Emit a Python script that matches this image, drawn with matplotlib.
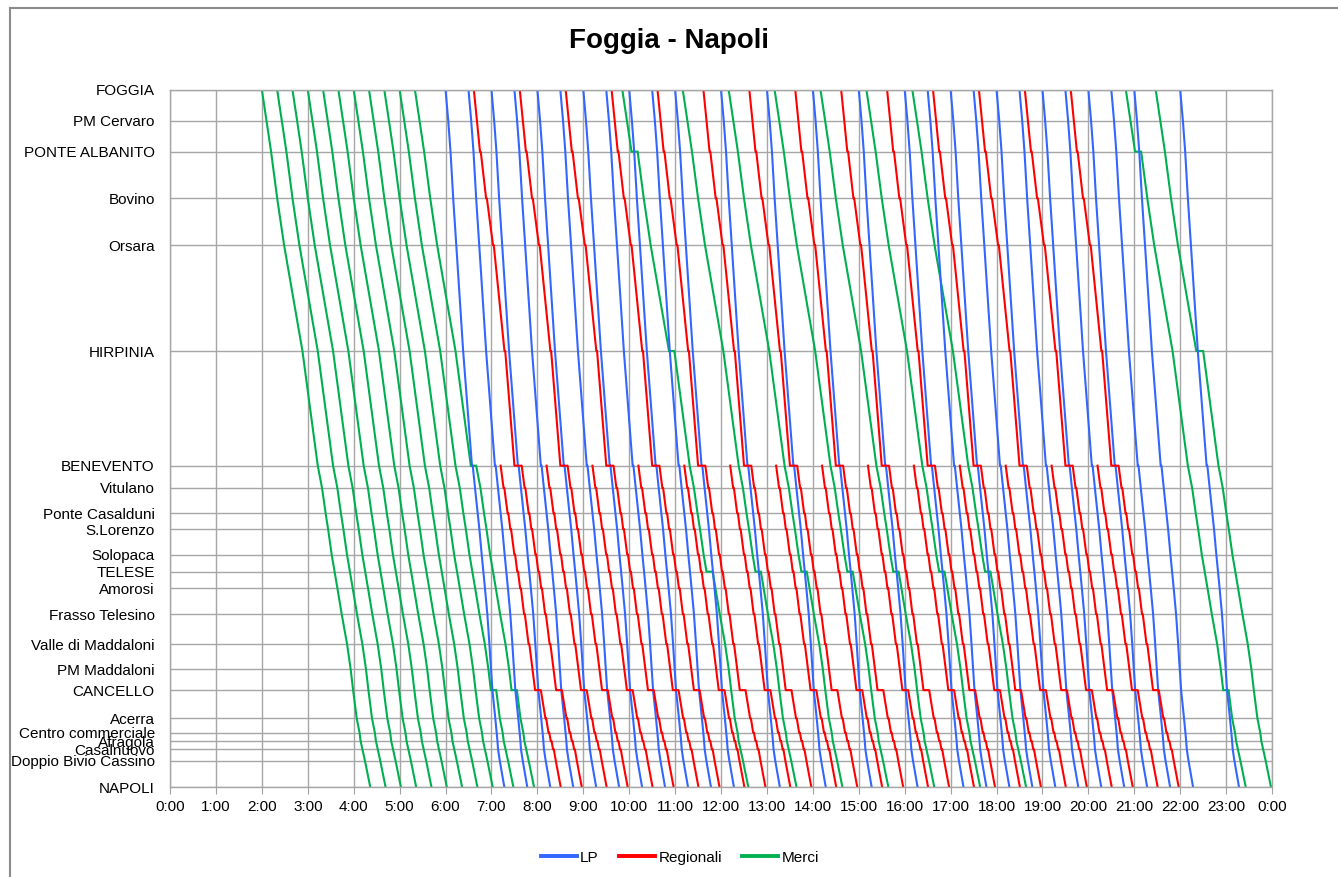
import matplotlib
matplotlib.use("Agg")
import matplotlib.pyplot as plt
from matplotlib.lines import Line2D

plt.rcParams['font.family'] = ['Liberation Sans', 'DejaVu Sans']

# ---------------- stations (top -> bottom) ----------------
stations = ["FOGGIA", "PM Cervaro", "PONTE ALBANITO", "Bovino", "Orsara", "HIRPINIA",
            "BENEVENTO", "Vitulano", "Ponte Casalduni", "S.Lorenzo", "Solopaca", "TELESE",
            "Amorosi", "Frasso Telesino", "Valle di Maddaloni", "PM Maddaloni", "CANCELLO",
            "Acerra", "Centro commerciale", "Afragola", "Casalnuovo", "Doppio Bivio Cassino",
            "NAPOLI"]
station_km = [0.0, 8.8, 17.7, 31.1, 44.5, 74.9, 107.8, 114.2, 121.5, 126.0, 133.3, 138.2,
              143.0, 150.4, 159.0, 166.2, 172.2, 180.3, 184.4, 186.8, 189.2, 192.4, 200.0]

# ---------------- LP (blue) ----------------
lp_route = ["FOGGIA", "PM Cervaro", "PONTE ALBANITO", "Bovino", "Orsara", "HIRPINIA",
            "BENEVENTO", "BENEVENTO", "Vitulano", "Ponte Casalduni", "S.Lorenzo", "Solopaca",
            "TELESE", "Amorosi", "Frasso Telesino", "Valle di Maddaloni", "PM Maddaloni",
            "CANCELLO", "Acerra", "Centro commerciale", "Afragola", "Casalnuovo",
            "Doppio Bivio Cassino", "NAPOLI"]
lp_minutes = [0, 3.5, 6.5, 10, 14, 23, 34.5, 35.5, 38.5, 42, 44.2, 47.2, 49.4, 51.5, 54.6,
              57.3, 59.4, 61.2, 65.0, 66.8, 67.8, 68.6, 70.8, 76.8]
lp_departures = ["6:00", "6:30", "7:00", "7:30", "8:00", "8:30", "9:00", "9:30", "10:00",
                 "10:30", "11:00", "12:00", "13:00", "14:00", "15:00", "16:00", "16:30",
                 "17:00", "17:30", "18:00", "18:30", "19:00", "19:30", "20:00", "20:30",
                 "21:00", "22:00"]

# ---------------- Regionali (red) ----------------
# Foggia -> Benevento section (minutes from Foggia)
reg_fg_route = ["FOGGIA", "PM Cervaro", "PONTE ALBANITO", "PONTE ALBANITO", "Bovino", "Bovino",
                "Orsara", "Orsara", "HIRPINIA", "HIRPINIA", "BENEVENTO"]
reg_fg_minutes = [0, 4, 8, 9, 16, 17, 25, 26, 40, 41, 53]
reg_bn_dwell = 9.5
# Benevento -> Napoli section (minutes from Benevento departure)
reg_bn_route = ["BENEVENTO", "Vitulano", "Vitulano", "Ponte Casalduni", "Ponte Casalduni",
                "S.Lorenzo", "S.Lorenzo", "Solopaca", "Solopaca", "TELESE", "TELESE",
                "Amorosi", "Amorosi", "Frasso Telesino", "Frasso Telesino",
                "Valle di Maddaloni", "Valle di Maddaloni", "PM Maddaloni", "CANCELLO",
                "CANCELLO", "Acerra", "Acerra", "Centro commerciale", "Centro commerciale",
                "Afragola", "Afragola", "Casalnuovo", "Casalnuovo", "Doppio Bivio Cassino",
                "NAPOLI"]
reg_bn_minutes = [0, 3.8, 4.8, 9.1, 10.1, 12.6, 13.6, 17.9, 18.9, 21.7, 22.7, 25.5, 26.5,
                  30.6, 31.6, 36.5, 37.5, 41.6, 45.0, 52.5, 58.5, 59.5, 62.5, 63.5, 65.5,
                  66.5, 68.5, 69.5, 72.0, 78.5]
reg_foggia_departures = ["6:37", "7:37", "8:37", "9:37", "10:37", "11:37", "12:37", "13:37",
                         "14:37", "15:37", "16:37", "17:37", "18:37", "19:37"]
reg_benevento_departures = ["7:12", "8:12", "9:12", "10:12", "11:12", "12:12", "13:12",
                            "14:12", "15:12", "16:12", "17:12", "18:12", "19:12", "20:12"]

# ---------------- Merci (green) ----------------
merci_route = ["FOGGIA", "PM Cervaro", "PONTE ALBANITO", "Bovino", "Orsara", "HIRPINIA",
               "BENEVENTO", "Vitulano", "Ponte Casalduni", "S.Lorenzo", "Solopaca", "TELESE",
               "Amorosi", "Frasso Telesino", "Valle di Maddaloni", "PM Maddaloni", "CANCELLO",
               "Acerra", "Centro commerciale", "Afragola", "Casalnuovo",
               "Doppio Bivio Cassino", "NAPOLI"]
merci_minutes = [0, 6, 12, 20, 29, 53, 73, 78.6, 83.3, 86.5, 91.2, 95, 98.7, 104.3, 111.3,
                 116, 119.2, 123.9, 127.6, 129, 131.4, 134.6, 141.6]
merci_departures = ["2:00", "2:20", "2:40", "3:00", "3:20", "3:40", "4:00", "4:20", "4:40",
                    "5:00", "5:20", "9:51", "11:10", "12:10", "13:10", "14:10", "15:10",
                    "16:10", "20:49", "21:28"]
# (train departure, station, dwell minutes)
merci_stops = [("5:00", "CANCELLO", 7), ("5:20", "BENEVENTO", 7), ("5:20", "CANCELLO", 7),
               ("9:51", "PONTE ALBANITO", 8), ("9:51", "HIRPINIA", 7), ("9:51", "TELESE", 8),
               ("11:10", "TELESE", 7), ("12:10", "TELESE", 7), ("13:10", "TELESE", 7),
               ("14:10", "TELESE", 7), ("15:10", "TELESE", 7), ("16:10", "TELESE", 7),
               ("20:49", "PONTE ALBANITO", 8), ("20:49", "CANCELLO", 7),
               ("21:28", "HIRPINIA", 9)]

series_names = ["LP", "Regionali", "Merci"]
series_colors = ["#3366FF", "#FF0000", "#00B050"]

# ---------------- helpers ----------------
km_of = dict(zip(stations, station_km))


def hm(s):
    h, m = s.split(":")
    return int(h) * 60 + int(m)


def path(start, route, minutes, dwells=None):
    xs, ys = [], []
    extra = 0.0
    for st, mn in zip(route, minutes):
        t = start + mn + extra
        xs.append(t / 60.0)
        ys.append(km_of[st])
        if dwells and st in dwells:
            extra += dwells[st]
            xs.append((start + mn + extra) / 60.0)
            ys.append(km_of[st])
    return xs, ys


fig = plt.figure(figsize=(13.38, 8.77), dpi=100)
ax = fig.add_axes([0.1271, 0.1026, 0.8236, 0.7948])

# Merci
for d in merci_departures:
    dw = {st: m for (tr, st, m) in merci_stops if tr == d}
    xs, ys = path(hm(d), merci_route, merci_minutes, dw)
    ax.plot(xs, ys, color=series_colors[2], lw=1.5, solid_joinstyle='miter')

# LP
for d in lp_departures:
    xs, ys = path(hm(d), lp_route, lp_minutes)
    ax.plot(xs, ys, color=series_colors[0], lw=1.5)

# Regionali from Foggia (through to Napoli)
for d in reg_foggia_departures:
    t0 = hm(d)
    xs1, ys1 = path(t0, reg_fg_route, reg_fg_minutes)
    bn_dep = t0 + reg_fg_minutes[-1] + reg_bn_dwell
    xs2, ys2 = path(bn_dep, reg_bn_route, reg_bn_minutes)
    ax.plot(xs1 + xs2, ys1 + ys2, color=series_colors[1], lw=1.5)

# Regionali from Benevento
for d in reg_benevento_departures:
    xs, ys = path(hm(d), reg_bn_route, reg_bn_minutes)
    ax.plot(xs, ys, color=series_colors[1], lw=1.5)

# ---------------- axes styling ----------------
ax.set_xlim(0, 24)
ax.set_ylim(200, 0)
ax.set_xticks(range(25))
ax.set_xticklabels([f"{h % 24}:00" for h in range(25)])
ax.set_yticks(station_km)
ax.set_yticklabels(stations)
ax.tick_params(axis='y', length=0, pad=11, labelsize=11)
ax.tick_params(axis='x', length=5, color='#a0a0a0', pad=4, labelsize=11)
ax.grid(True, color='#a6a6a6', lw=1)
ax.set_axisbelow(True)
for sp in ax.spines.values():
    sp.set_color('#a6a6a6')
    sp.set_linewidth(1)

fig.text(0.5, 0.953, "Foggia - Napoli", ha='center', va='center', fontsize=20,
         fontweight='bold')

handles = [Line2D([0], [0], color=c, lw=2.8) for c in series_colors]
fig.legend(handles, series_names, loc='center', bbox_to_anchor=(0.508, 0.022), ncol=3,
           frameon=False, fontsize=11, handlelength=2.4, handletextpad=0.2,
           columnspacing=1.3)

# outer chart frame (top and left edges)
fig.add_artist(Line2D([0.0075, 0.0075], [0.0, 0.9905], transform=fig.transFigure,
                      color='#8c8c8c', lw=1.5))
fig.add_artist(Line2D([0.0075, 1.0], [0.9905, 0.9905], transform=fig.transFigure,
                      color='#8c8c8c', lw=1.5))

fig.savefig("out.png", dpi=100)
